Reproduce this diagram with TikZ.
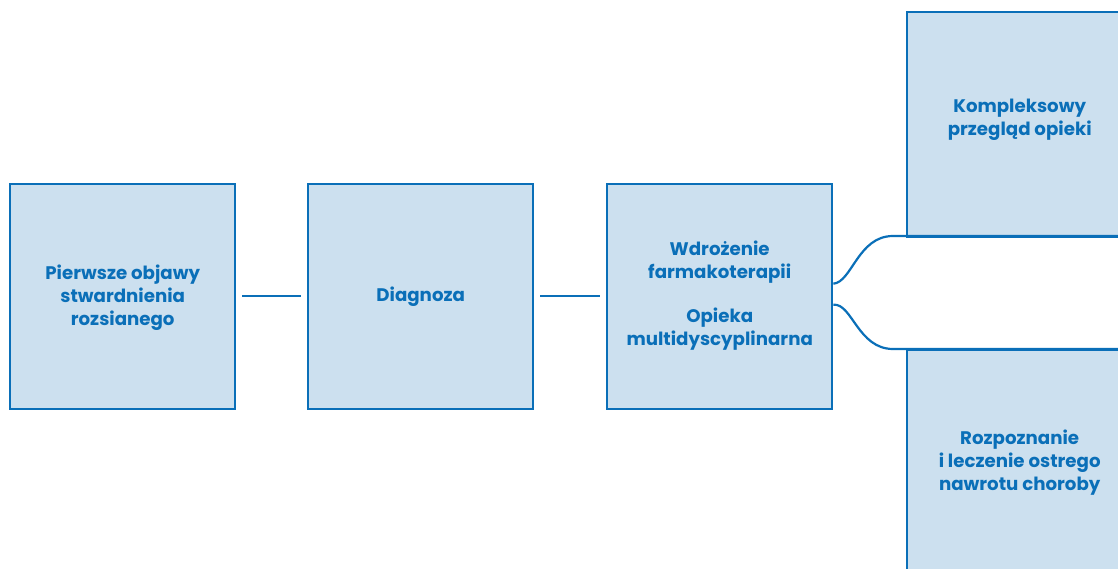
\documentclass[tikz,border=0pt]{standalone}
\usepackage{fontspec}
\setmainfont{Poppins}[UprightFont=* Bold, BoldFont=* Bold]
\definecolor{bblue}{HTML}{0A6FB8}
\definecolor{bfill}{HTML}{CCE0EF}
\tikzset{
  stagebox/.style={draw=bblue, fill=bfill, line width=2.4pt, minimum width=225pt, minimum height=225pt, inner sep=0pt, anchor=north west},
  stagetext/.style={text=bblue, font=\fontsize{18.2}{22.8}\selectfont, align=center},
  link/.style={draw=bblue, line width=2.2pt},
}
\begin{document}
\begin{tikzpicture}[x=1pt,y=-1pt]
\useasboundingbox (0,0) rectangle (1118,569);
\clip (0,0) rectangle (1118,569);
\node[stagebox] (b1) at (9,183) {};
\node[stagebox] (b2) at (307,183) {};
\node[stagebox] (b3) at (606,183) {};
\node[stagebox] (b4) at (906,11) {};
\node[stagebox] (b5) at (906,349) {};
\node[stagetext] (t1) at ([yshift=-1pt]b1.center) {Pierwsze objawy\\stwardnienia\\rozsianego};
\node[stagetext] (t2) at (b2.center) {Diagnoza};
\node[stagetext] (t3) at ([yshift=1pt]b3.center) {Wdrożenie\\farmakoterapii\\[21pt]Opieka\\multidyscyplinarna};
\node[stagetext] (t4) at ([yshift=5pt]b4.center) {Kompleksowy\\przegląd opieki};
\node[stagetext] (t5) at (b5.center) {Rozpoznanie\\i leczenie ostrego\\nawrotu choroby};
\coordinate (l1a) at ([xshift=6pt,yshift=0.5pt]b1.east);
\coordinate (l1b) at ([xshift=-6pt,yshift=0.5pt]b2.west);
\coordinate (l2a) at ([xshift=6pt,yshift=0.5pt]b2.east);
\coordinate (l2b) at ([xshift=-6pt,yshift=0.5pt]b3.west);
\draw[link] (l1a) -- (l1b);
\draw[link] (l2a) -- (l2b);
\coordinate (c1s) at ([yshift=13pt]b3.east);
\coordinate (c1e) at (893,236);
\coordinate (c1f) at (1130,236);
\coordinate (c2s) at ([yshift=-8pt]b3.east);
\coordinate (c2e) at (893,349);
\coordinate (c2f) at (1130,349);
\draw[link] (c1s) .. controls (852,282) and (858,236) .. (c1e) -- (c1f);
\draw[link] (c2s) .. controls (852,303) and (858,349) .. (c2e) -- (c2f);
\end{tikzpicture}
\end{document}
